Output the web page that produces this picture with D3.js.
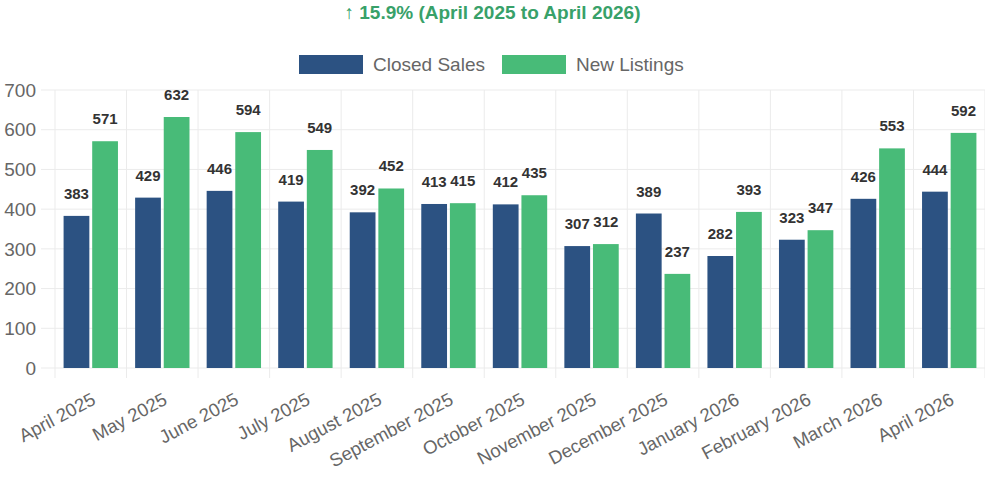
<!DOCTYPE html>
<html>
<head>
<meta charset="utf-8">
<script src="https://cdn.jsdelivr.net/npm/d3@7"></script>
<style>
  html, body { margin: 0; padding: 0; background: #fff; }
  svg { display: block; font-family: "Liberation Sans", Arial, Helvetica, sans-serif; }
</style>
</head>
<body>
<div id="chart"></div>
<script>
// Datos del gráfico
const months = ["April 2025", "May 2025", "June 2025", "July 2025", "August 2025",
  "September 2025", "October 2025", "November 2025", "December 2025",
  "January 2026", "February 2026", "March 2026", "April 2026"];
const closedSales = [383, 429, 446, 419, 392, 413, 412, 307, 389, 282, 323, 426, 444];
const newListings = [571, 632, 594, 549, 452, 415, 435, 312, 237, 393, 347, 553, 592];
const seriesNames = ["Closed Sales", "New Listings"];
const yTicks = [0, 100, 200, 300, 400, 500, 600, 700];
const titleText = "↑ 15.9% (April 2025 to April 2026)";

const W = 985, H = 480;
const COLORS = { sales: "#2c5282", listings: "#48bb78", title: "#38a169", tick: "#666", grid: "#ebebeb", label: "#333" };
const frame = { left: 55, right: 985, top: 90, bottom: 368 };

const svg = d3.select("#chart").append("svg")
  .attr("width", W)
  .attr("height", H)
  .attr("viewBox", `0 0 ${W} ${H}`);

// Escalas
const x = d3.scaleBand().domain(months).range([frame.left, frame.right]).paddingInner(0).paddingOuter(0);
const y = d3.scaleLinear().domain([0, 700]).range([frame.bottom, frame.top]);
const inner = d3.scaleBand().domain(seriesNames).range([0, x.bandwidth() * 0.8]).paddingInner(0.1).paddingOuter(0.05);
const groupOffset = x.bandwidth() * 0.1;

// Título
svg.append("text")
  .attr("x", W / 2)
  .attr("y", 19)
  .attr("text-anchor", "middle")
  .attr("font-size", 19)
  .attr("font-weight", "bold")
  .attr("fill", COLORS.title)
  .text(titleText);

// Leyenda
const legend = svg.append("g").attr("transform", "translate(299,55)");
const legendColors = [COLORS.sales, COLORS.listings];
const legendX = [0, 203];
seriesNames.forEach((name, i) => {
  const g = legend.append("g").attr("transform", `translate(${legendX[i]},0)`);
  g.append("rect").attr("width", 64).attr("height", 19).attr("fill", legendColors[i]);
  g.append("text")
    .attr("x", 74).attr("y", 16)
    .attr("font-size", 19)
    .attr("fill", COLORS.tick)
    .text(name);
});

// Rejilla horizontal + eje Y
const gGrid = svg.append("g");
gGrid.selectAll("line.h")
  .data(yTicks)
  .enter().append("line")
  .attr("class", "h")
  .attr("x1", frame.left - 14).attr("x2", frame.right)
  .attr("y1", d => y(d)).attr("y2", d => y(d))
  .attr("stroke", COLORS.grid).attr("stroke-width", 1);

// Rejilla vertical (entre categorías)
const vLines = months.map(m => x(m)).concat([frame.right]);
gGrid.selectAll("line.v")
  .data(vLines)
  .enter().append("line")
  .attr("class", "v")
  .attr("x1", d => d).attr("x2", d => d)
  .attr("y1", frame.top).attr("y2", frame.bottom + 10)
  .attr("stroke", COLORS.grid).attr("stroke-width", 1);

svg.append("g")
  .selectAll("text")
  .data(yTicks)
  .enter().append("text")
  .attr("x", 36)
  .attr("y", d => y(d))
  .attr("dy", "0.35em")
  .attr("text-anchor", "end")
  .attr("font-size", 19)
  .attr("fill", COLORS.tick)
  .text(d => d);

// Barras
const rows = months.map((m, i) => ({ month: m, values: [closedSales[i], newListings[i]] }));
const groups = svg.append("g").selectAll("g")
  .data(rows)
  .enter().append("g")
  .attr("transform", d => `translate(${x(d.month) + groupOffset},0)`);

groups.selectAll("rect")
  .data(d => d.values.map((v, j) => ({ key: seriesNames[j], value: v, color: legendColors[j] })))
  .enter().append("rect")
  .attr("x", d => inner(d.key))
  .attr("width", inner.bandwidth())
  .attr("y", d => y(d.value))
  .attr("height", d => y(0) - y(d.value))
  .attr("fill", d => d.color);

// Etiquetas de valores
groups.selectAll("text")
  .data(d => d.values.map((v, j) => ({ key: seriesNames[j], value: v })))
  .enter().append("text")
  .attr("x", d => inner(d.key) + inner.bandwidth() / 2)
  .attr("y", d => y(d.value) - 17)
  .attr("text-anchor", "middle")
  .attr("font-size", 15)
  .attr("font-weight", "bold")
  .attr("fill", COLORS.label)
  .text(d => d.value);

// Etiquetas del eje X (rotadas)
svg.append("g")
  .selectAll("text")
  .data(months)
  .enter().append("text")
  .attr("transform", d => `translate(${x(d) + x.bandwidth() / 2},${frame.bottom + 24}) rotate(-28)`)
  .attr("dy", "0.7em")
  .attr("text-anchor", "end")
  .attr("font-size", 18.5)
  .attr("fill", COLORS.tick)
  .text(d => d);
</script>
</body>
</html>
